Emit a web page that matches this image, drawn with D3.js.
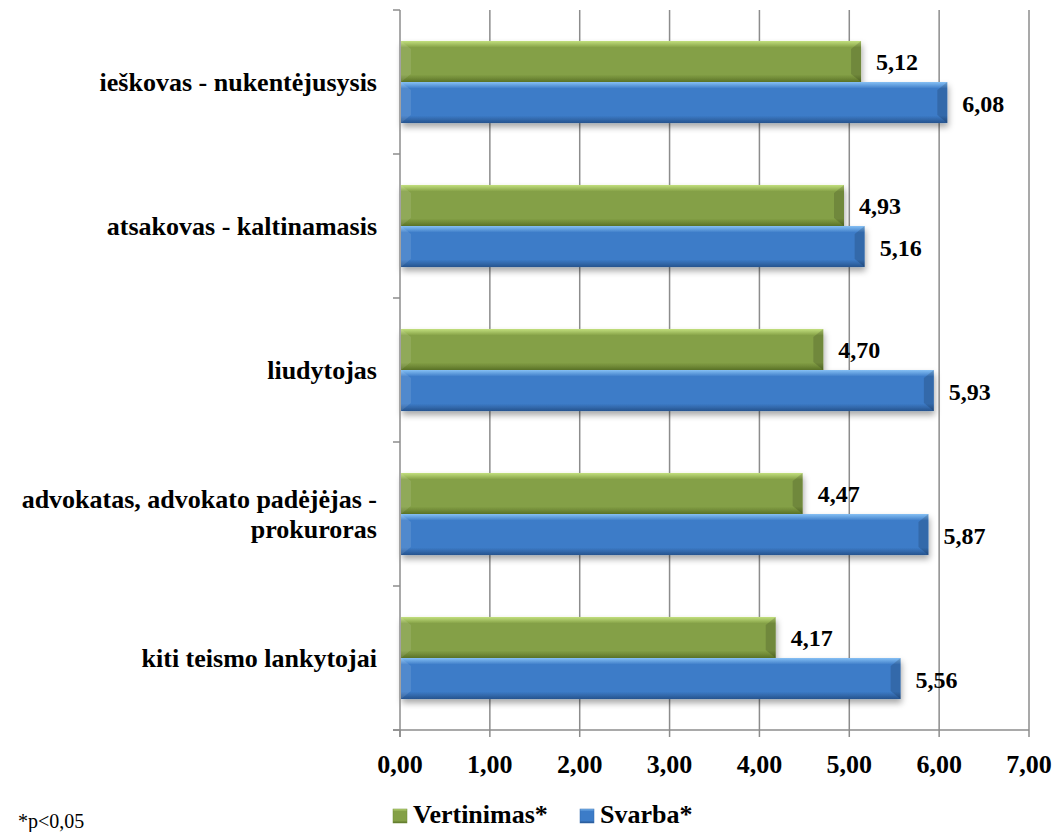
<!DOCTYPE html>
<html>
<head>
<meta charset="utf-8">
<script src="https://cdn.jsdelivr.net/npm/d3@7"></script>
<style>
  body { margin: 0; background: #fff; }
</style>
</head>
<body>
<div id="chart"></div>
<script>
// data
const categories = ["ieškovas - nukentėjusysis", "atsakovas - kaltinamasis", "liudytojas",
                    "advokatas, advokato padėjėjas - prokuroras", "kiti teismo lankytojai"];
const catLines = [["ieškovas - nukentėjusysis"], ["atsakovas - kaltinamasis"], ["liudytojas"],
                  ["advokatas, advokato padėjėjas -", "prokuroras"], ["kiti teismo lankytojai"]];
const vertinimas = [5.12, 4.93, 4.70, 4.47, 4.17];
const svarba = [6.08, 5.16, 5.93, 5.87, 5.56];
const seriesNames = ["Vertinimas*", "Svarba*"];
const xTicks = [0, 1, 2, 3, 4, 5, 6, 7];

const W = 1059, H = 832;
const margin = {left: 400, top: 10};
const plotW = 629, plotH = 720;
const FONT = '"Times New Roman"';

// bold serif label helper
function label(sel, size) {
  return sel.style("font-family", FONT).attr("font-size", size).attr("font-weight", "bold");
}

const svg = d3.select("#chart").append("svg")
  .attr("width", W).attr("height", H);

const defs = svg.append("defs");
function grad(id, top, mid, bot) {
  const g = defs.append("linearGradient").attr("id", id)
    .attr("x1", 0).attr("y1", 0).attr("x2", 0).attr("y2", 1);
  g.append("stop").attr("offset", "0%").attr("stop-color", top);
  g.append("stop").attr("offset", "16%").attr("stop-color", mid);
  g.append("stop").attr("offset", "82%").attr("stop-color", mid);
  g.append("stop").attr("offset", "100%").attr("stop-color", bot);
}
grad("gGreen", "#c2df7e", "#84a046", "#5b7429");
grad("gBlue", "#86c0f4", "#3c7cc8", "#27548e");
const f = defs.append("filter").attr("id", "shadow")
  .attr("x", "-5%").attr("y", "-20%").attr("width", "110%").attr("height", "170%");
f.append("feDropShadow").attr("dx", 1).attr("dy", 4).attr("stdDeviation", 3)
  .attr("flood-color", "#000").attr("flood-opacity", 0.35);

const g = svg.append("g").attr("transform", `translate(${margin.left},${margin.top})`);

const x = d3.scaleLinear().domain([0, 7]).range([0, plotW]);
const y = d3.scaleBand().domain(categories).range([0, plotH]).paddingInner(0.43).paddingOuter(0.215);
const y1 = d3.scaleBand().domain([0, 1]).range([0, y.bandwidth()]);

// gridlines
g.append("g").selectAll("line").data(xTicks.slice(1)).join("line")
  .attr("x1", d => x(d)).attr("x2", d => x(d))
  .attr("y1", 0).attr("y2", plotH)
  .attr("stroke", "#8c8c8c").attr("stroke-width", 1.5);

// bars
const colors = ["url(#gGreen)", "url(#gBlue)"];
[vertinimas, svarba].forEach((vals, s) => {
  const grp = g.append("g");
  vals.forEach((v, i) => {
    const by = y(categories[i]) + y1(s);
    const bh = y1.bandwidth();
    const bw = x(v);
    grp.append("rect").attr("x", 1).attr("y", by).attr("width", bw).attr("height", bh)
      .attr("fill", colors[s]).attr("filter", "url(#shadow)");
    // bevel: right end darker
    grp.append("path")
      .attr("d", `M${bw + 1},${by} L${bw - 9},${by + 8} L${bw - 9},${by + bh - 8} L${bw + 1},${by + bh} Z`)
      .attr("fill", "#000").attr("opacity", 0.15);
    // bevel: left end lighter
    grp.append("path")
      .attr("d", `M1,${by} L11,${by + 8} L11,${by + bh - 8} L1,${by + bh} Z`)
      .attr("fill", "#fff").attr("opacity", 0.1);
    label(grp.append("text"), 24)
      .attr("x", bw + 16).attr("y", by + bh / 2 + 9)
      .text(v.toFixed(2).replace(".", ","));
  });
});

// axes
g.append("line").attr("x1", 0).attr("x2", 0).attr("y1", 0).attr("y2", plotH + 7)
  .attr("stroke", "#8c8c8c").attr("stroke-width", 1.5);
g.append("line").attr("x1", -7).attr("x2", plotW).attr("y1", plotH).attr("y2", plotH)
  .attr("stroke", "#8c8c8c").attr("stroke-width", 1.5);
// y ticks at band boundaries
const yBounds = categories.map(c => y(c) - y.step() * 0.215).concat([plotH]);
g.append("g").selectAll("line").data(yBounds).join("line")
  .attr("x1", -7).attr("x2", 0).attr("y1", d => d).attr("y2", d => d)
  .attr("stroke", "#8c8c8c").attr("stroke-width", 1.5);
g.append("g").selectAll("line").data(xTicks).join("line")
  .attr("x1", d => x(d)).attr("x2", d => x(d)).attr("y1", plotH).attr("y2", plotH + 7)
  .attr("stroke", "#8c8c8c").attr("stroke-width", 1.5);
label(g.append("g").selectAll("text").data(xTicks).join("text"), 26)
  .attr("x", d => x(d)).attr("y", plotH + 43)
  .attr("text-anchor", "middle")
  .text(d => d.toFixed(2).replace(".", ","));

// category labels
categories.forEach((c, i) => {
  const lines = catLines[i];
  const cy = y(c) + y.bandwidth() / 2;
  const t = label(g.append("text"), 26).attr("text-anchor", "end");
  lines.forEach((l, k) => {
    t.append("tspan").attr("x", -23)
      .attr("y", cy + 9 + (k - (lines.length - 1) / 2) * 30)
      .text(l);
  });
});

// legend
const legX = [393, 580];
const legEdge = ["#6d8a34", "#3068ad"];
seriesNames.forEach((n, i) => {
  svg.append("rect").attr("x", legX[i]).attr("y", 809).attr("width", 14).attr("height", 14)
    .attr("fill", i === 0 ? "url(#gGreen)" : "url(#gBlue)").attr("stroke", legEdge[i]).attr("stroke-width", 0.5);
  label(svg.append("text"), 26).attr("x", legX[i] + 20).attr("y", 823).text(n);
});

// footnote
svg.append("text").style("font-family", FONT).attr("font-size", 20)
  .attr("x", 18).attr("y", 828).text("*p<0,05");
</script>
</body>
</html>
